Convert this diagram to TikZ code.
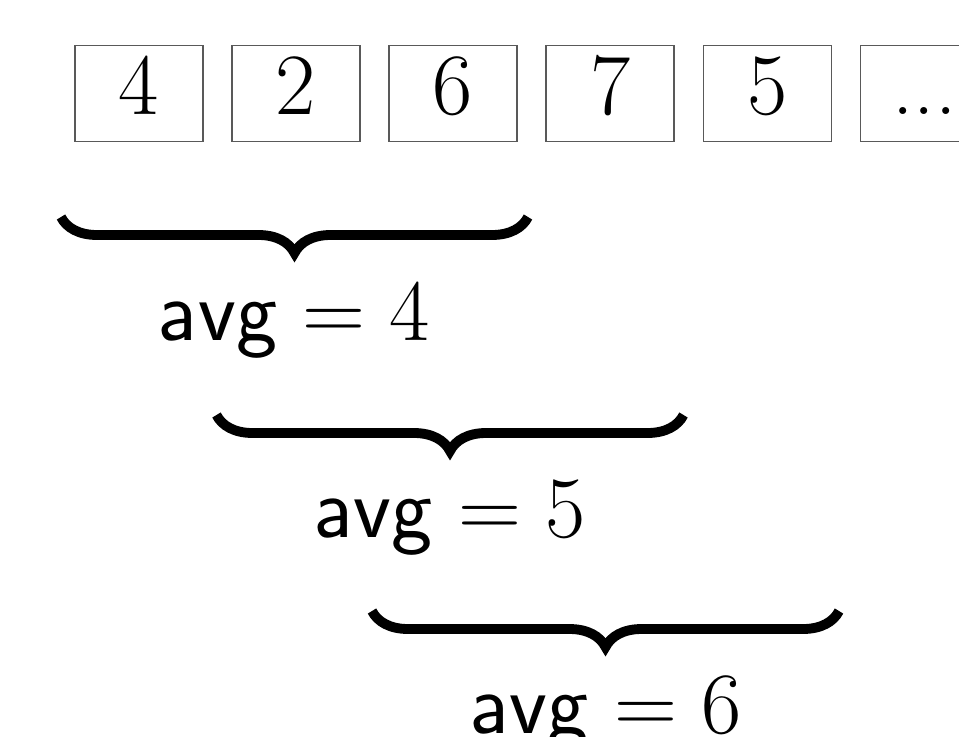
\documentclass[tikz,border=0pt]{standalone}
\usetikzlibrary{positioning,decorations.pathreplacing}
\newcommand{\cellfont}{\fontsize{24.3}{29}\selectfont}
\begin{document}
\begin{tikzpicture}[
    cell/.style={draw=black!65,minimum width=1.28cm,minimum height=0.96cm,inner sep=0pt,
        text height=15.6pt,text depth=3.5pt,font=\cellfont},
    avgbrace/.style={decorate,decoration={brace,mirror,amplitude=0.36cm},line width=2.8pt},
    avglabel/.style={anchor=base,font=\cellfont}
]

% Frame
\useasboundingbox (0,0) rectangle (9.59,-7.36);

% Cells
\node[cell] (c1) at (1.388,-0.937) {$4$};
\node[cell,right=0.277cm of c1] (c2) {$2$};
\node[cell,right=0.277cm of c2] (c3) {$6$};
\node[cell,right=0.277cm of c3] (c4) {$7$};
\node[cell,right=0.277cm of c4] (c5) {$5$};
\node[cell,right=0.277cm of c5] (c6) {...};

% Brace ends
\coordinate (s1) at (0.61,-2.17);
\coordinate (e1) at (5.28,-2.17);
\coordinate (s2) at (2.165,-4.15);
\coordinate (e2) at (6.835,-4.15);
\coordinate (s3) at (3.72,-6.11);
\coordinate (e3) at (8.39,-6.11);

% Braces
\draw[avgbrace] (s1) -- (e1);
\draw[avgbrace] (s2) -- (e2);
\draw[avgbrace] (s3) -- (e3);

% Labels
\node[avglabel] (avg1) at (2.945,-3.40) {$\mathsf{avg} = 4$};
\node[avglabel] (avg2) at (4.50,-5.37) {$\mathsf{avg} = 5$};
\node[avglabel] (avg3) at (6.06,-7.33) {$\mathsf{avg} = 6$};

\end{tikzpicture}
\end{document}
